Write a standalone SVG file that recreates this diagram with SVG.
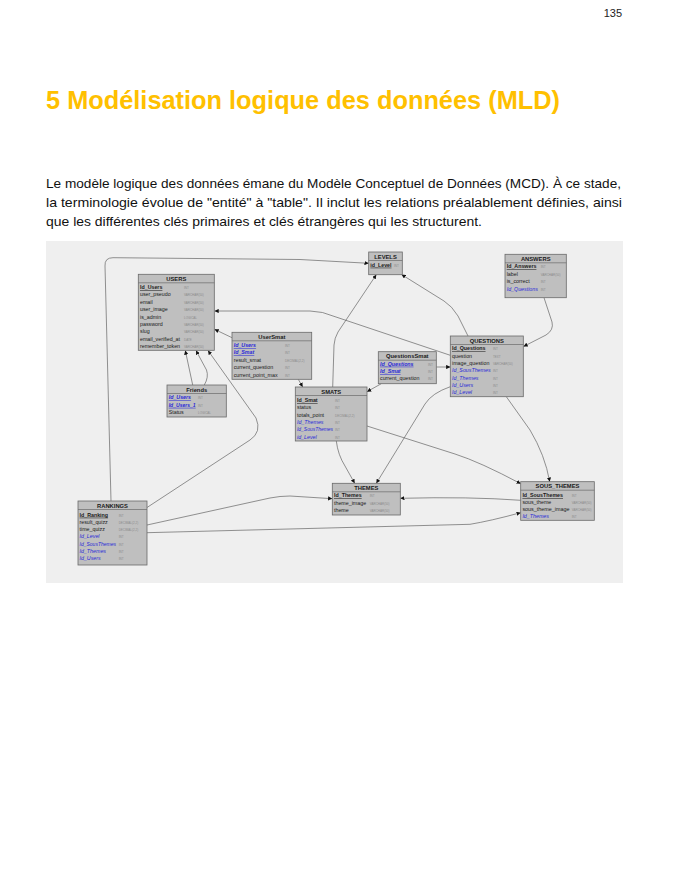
<svg xmlns="http://www.w3.org/2000/svg" width="686" height="879" viewBox="0 0 686 879">
  <defs>
    <marker id="arr" viewBox="0 0 10 10" markerWidth="4.2" markerHeight="4.2" refX="10" refY="5" orient="auto" markerUnits="userSpaceOnUse">
      <path d="M0,0 L10,5 L0,10 z" fill="#111"/>
    </marker>
  </defs>
  <style>
    .page { font-family: "Liberation Sans", Arial, sans-serif; }
    .title { font-family: "Liberation Sans", Arial, sans-serif; font-weight: bold; font-size: 25px; fill: #ffc000; }
    .para { font-family: "Liberation Sans", Arial, sans-serif; font-size: 13.3px; fill: #111; }
    .box { fill: #bfbfbf; stroke: #6a6a6a; stroke-width: 0.8; }
    .sep { stroke: #6a6a6a; stroke-width: 0.7; }
    .tbl text { font-family: "Liberation Sans", Arial, sans-serif; font-size: 5.3px; fill: #1a1a1a; }
    .tbl text.hd { font-weight: bold; font-size: 5.8px; text-anchor: middle; }
    .tbl text.pk { font-weight: bold; text-decoration: underline; }
    .tbl text.fk { font-style: italic; fill: #2a2ad8; }
    .tbl text.fkpk { font-style: italic; font-weight: bold; fill: #2a2ad8; text-decoration: underline; }
    .tbl text.ty { font-size: 3px; fill: #8c8c8c; }
    .links path { fill: none; stroke: #5a5a5a; stroke-width: 0.65; marker-end: url(#arr); }
  </style>

  <rect x="0" y="0" width="686" height="879" fill="#ffffff"/>

  <!-- page header and introduction -->
  <text class="page" x="622" y="17" font-size="11" text-anchor="end" fill="#222">135</text>
  <text class="title" x="46" y="109" textLength="514" lengthAdjust="spacingAndGlyphs">5 Modélisation logique des données (MLD)</text>
  <text class="para" x="46" y="188" textLength="575" lengthAdjust="spacingAndGlyphs">Le modèle logique des données émane du Modèle Conceptuel de Données (MCD). À ce stade,</text>
  <text class="para" x="46" y="207" textLength="576" lengthAdjust="spacingAndGlyphs">la terminologie évolue de "entité" à "table". Il inclut les relations préalablement définies, ainsi</text>
  <text class="para" x="46" y="226" textLength="436" lengthAdjust="spacingAndGlyphs">que les différentes clés primaires et clés étrangères qui les structurent.</text>

  <!-- diagram canvas -->
  <rect x="46" y="241" width="577" height="342" fill="#efefef"/>

  <!-- relations -->
  <g id="connectors" class="links">
    <path d="M111,501 L105,266 Q104.5,257.7 113,257.7 L300,259.5 L368.7,263.3"/>
    <path d="M147,507.5 L250,440 Q262,432 256,418 L208,350.5"/>
    <path d="M192.7,385 L185.3,350.5"/>
    <path d="M204.3,385 Q209,377 206.5,370 L196,350.5"/>
    <path d="M232,337.7 L214.5,329.3"/>
    <path d="M298.3,379.3 L302.7,387"/>
    <path d="M450.3,355.3 L336,317 Q322,311 310,311 L214.5,311"/>
    <path d="M332.7,387 L334,345 Q334.5,338 338,332 L376.3,274.7"/>
    <path d="M468,336 L458,316 Q452,306 444,301 L401.5,274.5"/>
    <path d="M544,297.7 L552,322 Q554,330 546,335 L523.5,346.5"/>
    <path d="M436.3,367 L450.3,367"/>
    <path d="M381.3,383.7 L367,391.7"/>
    <path d="M450.3,386.7 Q432,393 425,404 L376.3,483.3"/>
    <path d="M336.3,441 Q338,455 345,466 L354.7,483.3"/>
    <path d="M367,426 L455,454 Q480,462 520.7,483.7"/>
    <path d="M506.3,396.7 L530,430 Q545,455 549.7,481.7"/>
    <path d="M520.7,500.3 Q470,496.5 400.3,498.3"/>
    <path d="M147,525 L270,498 Q280,496 290,496 L332.3,498.7"/>
    <path d="M147,532.7 L470,524.3 Q490,521 520.7,512.7"/>
  </g>

  <!-- USERS -->
  <g id="users" class="tbl">
    <rect class="box" x="138.3" y="274.3" width="76" height="76"/>
    <line class="sep" x1="138.3" y1="282.8" x2="214.3" y2="282.8"/>
    <text class="hd" x="176.3" y="280.8">USERS</text>
    <text class="pk" x="140" y="289">Id_Users</text><text class="ty" x="184" y="289">INT</text>
    <text x="140" y="296.4">user_pseudo</text><text class="ty" x="184" y="296.4">VARCHAR(50)</text>
    <text x="140" y="303.8">email</text><text class="ty" x="184" y="303.8">VARCHAR(50)</text>
    <text x="140" y="311.1">user_image</text><text class="ty" x="184" y="311.1">VARCHAR(50)</text>
    <text x="140" y="318.5">is_admin</text><text class="ty" x="184" y="318.5">LOGICAL</text>
    <text x="140" y="325.9">password</text><text class="ty" x="184" y="325.9">VARCHAR(50)</text>
    <text x="140" y="333.3">slug</text><text class="ty" x="184" y="333.3">VARCHAR(50)</text>
    <text x="140" y="340.6">email_verified_at</text><text class="ty" x="184" y="340.6">DATE</text>
    <text x="140" y="348">remember_token</text><text class="ty" x="184" y="348">VARCHAR(50)</text>
  </g>

  <!-- UserSmat -->
  <g id="usersmat" class="tbl">
    <rect class="box" x="232" y="332.3" width="79.7" height="47"/>
    <line class="sep" x1="232" y1="340.8" x2="311.7" y2="340.8"/>
    <text class="hd" x="271.9" y="338.8">UserSmat</text>
    <text class="fkpk" x="233.7" y="347">Id_Users</text><text class="ty" x="285" y="347">INT</text>
    <text class="fkpk" x="233.7" y="354.4">Id_Smat</text><text class="ty" x="285" y="354.4">INT</text>
    <text x="233.7" y="361.8">result_smat</text><text class="ty" x="285" y="361.8">DECIMAL(2,2)</text>
    <text x="233.7" y="369.2">current_question</text><text class="ty" x="285" y="369.2">INT</text>
    <text x="233.7" y="376.6">current_point_max</text><text class="ty" x="285" y="376.6">INT</text>
  </g>

  <!-- Friends -->
  <g id="friends" class="tbl">
    <rect class="box" x="167" y="385" width="59.3" height="32"/>
    <line class="sep" x1="167" y1="393.5" x2="226.3" y2="393.5"/>
    <text class="hd" x="196.7" y="391.5">Friends</text>
    <text class="fkpk" x="168.7" y="399.2">Id_Users</text><text class="ty" x="198" y="399.2">INT</text>
    <text class="fkpk" x="168.7" y="406.8" textLength="27" lengthAdjust="spacingAndGlyphs">Id_Users_1</text><text class="ty" x="198" y="406.8">INT</text>
    <text x="168.7" y="414.4">Status</text><text class="ty" x="198" y="414.4">LOGICAL</text>
  </g>

  <!-- LEVELS -->
  <g id="levels" class="tbl">
    <rect class="box" x="368.7" y="252" width="33.6" height="22.7"/>
    <line class="sep" x1="368.7" y1="260.5" x2="402.3" y2="260.5"/>
    <text class="hd" x="385.5" y="258.5">LEVELS</text>
    <text class="pk" x="370.3" y="266.7">id_Level</text><text class="ty" x="394" y="266.7">INT</text>
  </g>

  <!-- ANSWERS -->
  <g id="answers" class="tbl">
    <rect class="box" x="505" y="254.3" width="61.3" height="43.4"/>
    <line class="sep" x1="505" y1="262.8" x2="566.3" y2="262.8"/>
    <text class="hd" x="535.7" y="260.8">ANSWERS</text>
    <text class="pk" x="506.7" y="268.3">Id_Answers</text><text class="ty" x="540.7" y="268.3">INT</text>
    <text x="506.7" y="275.8">label</text><text class="ty" x="540.7" y="275.8">VARCHAR(50)</text>
    <text x="506.7" y="283.3">is_correct</text><text class="ty" x="540.7" y="283.3">INT</text>
    <text class="fk" x="506.7" y="290.8">Id_Questions</text><text class="ty" x="540.7" y="290.8">INT</text>
  </g>

  <!-- QUESTIONS -->
  <g id="questions" class="tbl">
    <rect class="box" x="450.3" y="336" width="73" height="60.7"/>
    <line class="sep" x1="450.3" y1="344.5" x2="523.3" y2="344.5"/>
    <text class="hd" x="486.8" y="342.5">QUESTIONS</text>
    <text class="pk" x="452" y="350.3">Id_Questions</text><text class="ty" x="493" y="350.3">INT</text>
    <text x="452" y="357.6">question</text><text class="ty" x="493" y="357.6">TEXT</text>
    <text x="452" y="365">image_question</text><text class="ty" x="493" y="365">VARCHAR(50)</text>
    <text class="fk" x="452" y="372.3">Id_SousThemes</text><text class="ty" x="493" y="372.3">INT</text>
    <text class="fk" x="452" y="379.6">Id_Themes</text><text class="ty" x="493" y="379.6">INT</text>
    <text class="fk" x="452" y="387">Id_Users</text><text class="ty" x="493" y="387">INT</text>
    <text class="fk" x="452" y="394.3">Id_Level</text><text class="ty" x="493" y="394.3">INT</text>
  </g>

  <!-- QuestionsSmat -->
  <g id="questionssmat" class="tbl">
    <rect class="box" x="378.3" y="351.7" width="58" height="32"/>
    <line class="sep" x1="378.3" y1="360.2" x2="436.3" y2="360.2"/>
    <text class="hd" x="407.3" y="358.2">QuestionsSmat</text>
    <text class="fkpk" x="380" y="365.7">Id_Questions</text><text class="ty" x="428" y="365.7">INT</text>
    <text class="fkpk" x="380" y="373">Id_Smat</text><text class="ty" x="428" y="373">INT</text>
    <text x="380" y="380.3">current_question</text><text class="ty" x="428" y="380.3">INT</text>
  </g>

  <!-- SMATS -->
  <g id="smats" class="tbl">
    <rect class="box" x="295.3" y="387" width="71.7" height="54"/>
    <line class="sep" x1="295.3" y1="395.5" x2="367" y2="395.5"/>
    <text class="hd" x="331.2" y="393.5">SMATS</text>
    <text class="pk" x="297" y="402">Id_Smat</text><text class="ty" x="335" y="402">INT</text>
    <text x="297" y="409.3">status</text><text class="ty" x="335" y="409.3">INT</text>
    <text x="297" y="416.7">totals_point</text><text class="ty" x="335" y="416.7">DECIMAL(2,2)</text>
    <text class="fk" x="297" y="424">Id_Themes</text><text class="ty" x="335" y="424">INT</text>
    <text class="fk" x="297" y="431.3" textLength="36" lengthAdjust="spacingAndGlyphs">Id_SousThemes</text><text class="ty" x="335" y="431.3">INT</text>
    <text class="fk" x="297" y="438.7">id_Level</text><text class="ty" x="335" y="438.7">INT</text>
  </g>

  <!-- RANKINGS -->
  <g id="rankings" class="tbl">
    <rect class="box" x="78" y="501" width="69" height="64"/>
    <line class="sep" x1="78" y1="509.5" x2="147" y2="509.5"/>
    <text class="hd" x="112.5" y="507.5">RANKINGS</text>
    <text class="pk" x="79.5" y="516.7">Id_Ranking</text><text class="ty" x="118.7" y="516.7">INT</text>
    <text x="79.5" y="524">result_quizz</text><text class="ty" x="118.7" y="524">DECIMAL(2,2)</text>
    <text x="79.5" y="531.2">time_quizz</text><text class="ty" x="118.7" y="531.2">DECIMAL(2,2)</text>
    <text class="fk" x="79.5" y="538.4">Id_Level</text><text class="ty" x="118.7" y="538.4">INT</text>
    <text class="fk" x="79.5" y="545.6" textLength="36.5" lengthAdjust="spacingAndGlyphs">Id_SousThemes</text><text class="ty" x="118.7" y="545.6">INT</text>
    <text class="fk" x="79.5" y="552.8">Id_Themes</text><text class="ty" x="118.7" y="552.8">INT</text>
    <text class="fk" x="79.5" y="560">Id_Users</text><text class="ty" x="118.7" y="560">INT</text>
  </g>

  <!-- THEMES -->
  <g id="themes" class="tbl">
    <rect class="box" x="332.3" y="483.3" width="68" height="31.7"/>
    <line class="sep" x1="332.3" y1="491.8" x2="400.3" y2="491.8"/>
    <text class="hd" x="366.3" y="489.8">THEMES</text>
    <text class="pk" x="334" y="497">Id_Themes</text><text class="ty" x="369.7" y="497">INT</text>
    <text x="334" y="504.5">theme_image</text><text class="ty" x="369.7" y="504.5">VARCHAR(50)</text>
    <text x="334" y="512">theme</text><text class="ty" x="369.7" y="512">VARCHAR(50)</text>
  </g>

  <!-- SOUS_THEMES -->
  <g id="sous_themes" class="tbl">
    <rect class="box" x="520.7" y="481.7" width="73.6" height="38.6"/>
    <line class="sep" x1="520.7" y1="490.2" x2="594.3" y2="490.2"/>
    <text class="hd" x="557.5" y="488.2">SOUS_THEMES</text>
    <text class="pk" x="522.4" y="497">Id_SousThemes</text><text class="ty" x="571.7" y="497">INT</text>
    <text x="522.4" y="504.1">sous_theme</text><text class="ty" x="571.7" y="504.1">VARCHAR(50)</text>
    <text x="522.4" y="511.2" textLength="47" lengthAdjust="spacingAndGlyphs">sous_theme_image</text><text class="ty" x="571.7" y="511.2">VARCHAR(50)</text>
    <text class="fk" x="522.4" y="518.3">Id_Themes</text><text class="ty" x="571.7" y="518.3">INT</text>
  </g>
</svg>
